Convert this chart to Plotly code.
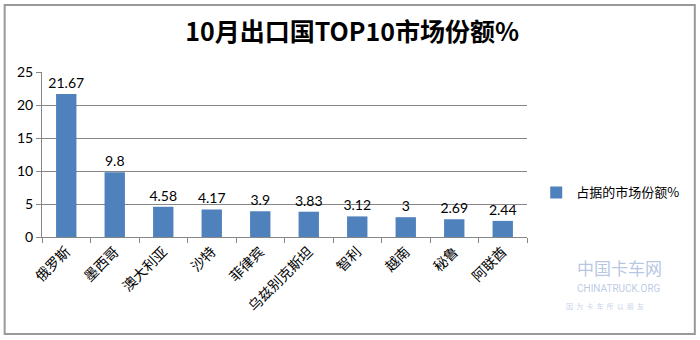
import plotly.graph_objects as go

countries = ["俄罗斯", "墨西哥", "澳大利亚", "沙特", "菲律宾", "乌兹别克斯坦", "智利", "越南", "秘鲁", "阿联酋"]
shares = [21.67, 9.8, 4.58, 4.17, 3.9, 3.83, 3.12, 3, 2.69, 2.44]
share_labels = ["21.67", "9.8", "4.58", "4.17", "3.9", "3.83", "3.12", "3", "2.69", "2.44"]
y_ticks = [0, 5, 10, 15, 20, 25]
series_name = "占据的市场份额%"
title_text = "10月出口国TOP10市场份额%"

CJK = "Noto Sans CJK SC"

fig = go.Figure()
fig.add_trace(go.Bar(
    x=countries,
    y=shares,
    name=series_name,
    marker=dict(color="#4F81BD", line=dict(width=0)),
    width=0.42,
    text=share_labels,
    textposition="outside",
    constraintext="none",
    textfont=dict(family="Lato, " + CJK, size=14, color="#000000"),
    cliponaxis=False,
))

fig.update_layout(
    width=700,
    height=340,
    margin=dict(l=42, r=173, t=72, b=103, autoexpand=False),
    paper_bgcolor="white",
    plot_bgcolor="white",
    title=dict(
        text="<b>" + title_text + "</b>",
        x=0.503, xanchor="center",
        y=0.905, yanchor="middle",
        font=dict(family=CJK, size=25, color="#000000"),
    ),
    showlegend=True,
    legend=dict(
        x=1.019, xanchor="left",
        y=0.27, yanchor="middle",
        font=dict(family=CJK, size=13, color="#000000"),
        itemwidth=30,
        bgcolor="rgba(0,0,0,0)",
    ),
    xaxis=dict(
        type="category",
        showline=True, linecolor="#868686", linewidth=1,
        ticks="outside", tickson="boundaries", ticklen=5, tickcolor="#868686",
        tickangle=-45,
        tickfont=dict(family=CJK, size=14, color="#000000"),
        showgrid=False,
    ),
    yaxis=dict(
        range=[0, 25],
        tickvals=y_ticks,
        showline=True, linecolor="#868686", linewidth=1,
        ticks="outside", ticklen=5, tickcolor="#868686",
        tickfont=dict(family="Lato, " + CJK, size=14, color="#000000"),
        showgrid=True, gridcolor="#868686", gridwidth=1,
        zeroline=False,
    ),
    bargap=0.55,
)

# outer chart frame
fig.add_shape(type="rect", xref="paper", yref="paper",
              x0=-0.077, x1=1.346, y0=-0.588, y1=1.406,
              line=dict(color="#999999", width=2), fillcolor="rgba(0,0,0,0)")

# faint site watermark
fig.add_annotation(xref="paper", yref="paper", x=1.19, y=-0.27,
                   text="中国卡车网", showarrow=False, xanchor="center",
                   font=dict(family=CJK, size=17, color="rgba(120,150,200,0.55)"))
fig.add_annotation(xref="paper", yref="paper", x=1.19, y=-0.355,
                   text="CHINATRUCK.ORG", showarrow=False, xanchor="center",
                   font=dict(family="Roboto", size=10, color="rgba(120,150,200,0.5)"))
fig.add_annotation(xref="paper", yref="paper", x=1.16, y=-0.46,
                   text="因  为  卡  车  所  以  朋  友", showarrow=False, xanchor="center",
                   font=dict(family=CJK, size=7, color="rgba(120,150,200,0.45)"))

fig.write_html("out.html")
